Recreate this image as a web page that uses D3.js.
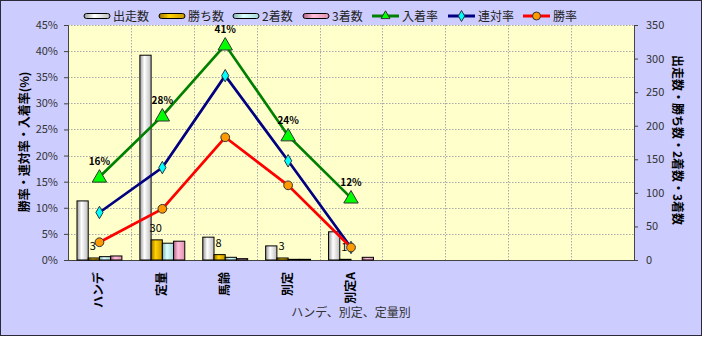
<!DOCTYPE html>
<html>
<head>
<meta charset="utf-8">
<script src="https://cdn.jsdelivr.net/npm/d3@7"></script>
<style>
  body { margin: 0; background: #fff; }
  text { font-family: "Noto Sans CJK JP", "Liberation Sans", sans-serif; }
</style>
</head>
<body>
<svg id="chart" width="703" height="337"></svg>
<script>
// data
const categories = ["ハンデ", "定量", "馬齢", "別定", "別定A"];
const emptySlots = 4; // unlabeled slots on the right of the x axis

const starters = [88, 305, 34, 21, 42];   // 出走数
const wins = [3, 30, 8, 3, 1];            // 勝ち数
const seconds = [5, 25, 4, 1, 0];         // 2着数
const thirds = [6, 28, 2, 1, 4];          // 3着数

const winRate = [3.4, 9.8, 23.5, 14.3, 2.4];      // 勝率
const quinellaRate = [9.1, 17.7, 35.3, 19.0, 2.4]; // 連対率
const placeRate = [15.9, 27.6, 41.2, 23.8, 11.9];  // 入着率

const leftTicks = [0, 5, 10, 15, 20, 25, 30, 35, 40, 45];
const rightTicks = [0, 50, 100, 150, 200, 250, 300, 350];

const svg = d3.select("#chart");
const plotL = 68, plotR = 634, plotT = 25, plotB = 260;

// gradients for the cylinder-looking bars
const defs = svg.append("defs");
function grad(id, dark, light, mid) {
    const g = defs.append("linearGradient").attr("id", id)
        .attr("x1", 0).attr("x2", 1).attr("y1", 0).attr("y2", 0);
    g.append("stop").attr("offset", "0%").attr("stop-color", dark);
    g.append("stop").attr("offset", "40%").attr("stop-color", light);
    g.append("stop").attr("offset", "100%").attr("stop-color", mid);
}
grad("gStart", "#9a9a9a", "#ffffff", "#bdbdbd");
grad("gWin", "#9a7000", "#ffd400", "#c89600");
grad("gSecond", "#80b0b0", "#dcffff", "#a8d8d8");
grad("gThird", "#b06080", "#ffc0dc", "#e090b0");

const barSeries = [
    { name: "出走数", values: starters, fill: "url(#gStart)" },
    { name: "勝ち数", values: wins, fill: "url(#gWin)" },
    { name: "2着数", values: seconds, fill: "url(#gSecond)" },
    { name: "3着数", values: thirds, fill: "url(#gThird)" }
];
const lineSeries = [
    { name: "入着率", values: placeRate, stroke: "#008000", marker: "triangle", fill: "#00ff00" },
    { name: "連対率", values: quinellaRate, stroke: "#000080", marker: "diamond", fill: "#00ffff" },
    { name: "勝率", values: winRate, stroke: "#ff0000", marker: "circle", fill: "#ff9900" }
];

// frame
svg.append("rect").attr("x", 0.5).attr("y", 0.5).attr("width", 701).attr("height", 335)
    .attr("fill", "#ccccff").attr("stroke", "#2a2a3a");

const keys = categories.concat(d3.range(emptySlots).map(i => "_" + i));
const x = d3.scaleBand().domain(keys).range([plotL, plotR]);
const bw = x.bandwidth();
const xSub = d3.scaleBand().domain(barSeries.map(s => s.name))
    .range([bw * 0.143, bw * 0.857]);
const yL = d3.scaleLinear().domain([0, 45]).range([plotB, plotT]);
const yR = d3.scaleLinear().domain([0, 350]).range([plotB, plotT]);

// plot area
svg.append("rect").attr("x", plotL).attr("y", plotT)
    .attr("width", plotR - plotL).attr("height", plotB - plotT).attr("fill", "#ffffcc");

// grid
svg.append("g").selectAll("line").data(leftTicks.slice(1)).join("line")
    .attr("x1", plotL).attr("x2", plotR)
    .attr("y1", d => Math.round(yL(d)) + 0.5).attr("y2", d => Math.round(yL(d)) + 0.5)
    .attr("stroke", "#aaa").attr("stroke-dasharray", "1.5,1.5");
svg.append("g").selectAll("line").data(keys.slice(1)).join("line")
    .attr("x1", d => Math.round(x(d)) + 0.5).attr("x2", d => Math.round(x(d)) + 0.5)
    .attr("y1", plotT).attr("y2", plotB)
    .attr("stroke", "#aaa").attr("stroke-dasharray", "1.5,1.5");

// axes
const axL = svg.append("g").attr("transform", `translate(${plotL},0)`)
    .call(d3.axisLeft(yL).tickValues(leftTicks).tickSize(4).tickFormat(d => d + "%"));
const axR = svg.append("g").attr("transform", `translate(${plotR},0)`)
    .call(d3.axisRight(yR).tickValues(rightTicks).tickSize(4));
[axL, axR].forEach(a => {
    a.select(".domain").attr("stroke", "#444");
    a.selectAll(".tick line").attr("stroke", "#444");
    a.selectAll(".tick text").attr("font-size", 11).attr("fill", "#333")
        .attr("font-family", "Liberation Sans, sans-serif");
});
axL.selectAll(".tick text").attr("x", -10);
axR.selectAll(".tick text").attr("x", 12);
svg.append("line").attr("x1", plotL).attr("x2", plotR)
    .attr("y1", plotB + 0.5).attr("y2", plotB + 0.5).attr("stroke", "#444");

// bars
const barG = svg.append("g");
barSeries.forEach(s => {
    barG.selectAll(null).data(s.values).join("rect")
        .attr("x", (d, i) => x(categories[i]) + xSub(s.name))
        .attr("width", xSub.bandwidth())
        .attr("y", d => yR(d))
        .attr("height", d => plotB - yR(d))
        .attr("fill", s.fill)
        .attr("stroke", "#000").attr("stroke-width", d => d > 0 ? 1 : 0);
});

// win count labels
svg.append("g").selectAll("text").data(wins).join("text")
    .attr("x", (d, i) => x(categories[i]) + xSub("勝ち数") + xSub.bandwidth() / 2 - 1)
    .attr("y", d => yR(d) - 8)
    .attr("text-anchor", "middle").attr("font-size", 11)
    .attr("font-family", "Liberation Sans, sans-serif")
    .text(d => d);

// lines and markers
const cx = i => x(categories[i]) + bw / 2;
const line = d3.line().x((d, i) => cx(i)).y(d => yL(d));
lineSeries.forEach(s => {
    svg.append("path").datum(s.values).attr("d", line)
        .attr("fill", "none").attr("stroke", s.stroke).attr("stroke-width", 2.7);
    const sym = s.marker === "triangle" ? d3.symbolTriangle
        : s.marker === "diamond" ? d3.symbolDiamond : d3.symbolCircle;
    const size = s.marker === "triangle" ? 90 : s.marker === "diamond" ? 45 : 60;
    svg.append("g").selectAll("path").data(s.values).join("path")
        .attr("d", d3.symbol(sym, size))
        .attr("transform", (d, i) => `translate(${cx(i)},${yL(d) + (s.marker === "triangle" ? 1 : 0)})`)
        .attr("fill", s.fill).attr("stroke", "#333").attr("stroke-width", 1);
});

// place rate labels
svg.append("g").selectAll("text").data(placeRate).join("text")
    .attr("x", (d, i) => cx(i)).attr("y", d => yL(d) - 12)
    .attr("text-anchor", "middle").attr("font-size", 10).attr("font-weight", "bold")
    .attr("font-family", "Liberation Sans, sans-serif")
    .text(d => Math.round(d) + "%");

// category labels (rotated)
svg.append("g").selectAll("text").data(categories).join("text")
    .attr("transform", (d, i) => `translate(${cx(i) + 4},${272}) rotate(-90)`)
    .attr("text-anchor", "end").attr("font-size", 12).attr("font-weight", "bold")
    .text(d => d);

// axis titles
svg.append("text").attr("x", (plotL + plotR) / 2).attr("y", 317)
    .attr("text-anchor", "middle").attr("font-size", 12).attr("fill", "#333")
    .text("ハンデ、別定、定量別");
svg.append("text").attr("transform", "translate(29,142) rotate(-90)")
    .attr("text-anchor", "middle").attr("font-size", 12).attr("font-weight", "bold")
    .text("勝率・連対率・入着率(%)");
svg.append("text").attr("transform", "translate(673,140) rotate(90)")
    .attr("text-anchor", "middle").attr("font-size", 12).attr("font-weight", "bold")
    .text("出走数・勝ち数・2着数・3着数");

// legend
const legend = svg.append("g");
const barLegX = [84, 159, 233, 303];
barSeries.forEach((s, i) => {
    legend.append("rect").attr("x", barLegX[i]).attr("y", 13.5).attr("width", 26).attr("height", 5)
        .attr("rx", 2.5).attr("fill", s.fill).attr("stroke", "#000");
    legend.append("text").attr("x", barLegX[i] + 29).attr("y", 21)
        .attr("font-size", 12).attr("fill", "#222").text(s.name);
});
const lineLegX = [372, 448, 523];
lineSeries.forEach((s, i) => {
    legend.append("line").attr("x1", lineLegX[i]).attr("x2", lineLegX[i] + 27)
        .attr("y1", 16).attr("y2", 16).attr("stroke", s.stroke).attr("stroke-width", 3);
    const sym = s.marker === "triangle" ? d3.symbolTriangle
        : s.marker === "diamond" ? d3.symbolDiamond : d3.symbolCircle;
    legend.append("path").attr("d", d3.symbol(sym, s.marker === "circle" ? 50 : 35))
        .attr("transform", `translate(${lineLegX[i] + 13.5},16)`)
        .attr("fill", s.fill).attr("stroke", "#333");
    legend.append("text").attr("x", lineLegX[i] + 30).attr("y", 21)
        .attr("font-size", 12).attr("fill", "#222").text(s.name);
});
</script>
</body>
</html>
